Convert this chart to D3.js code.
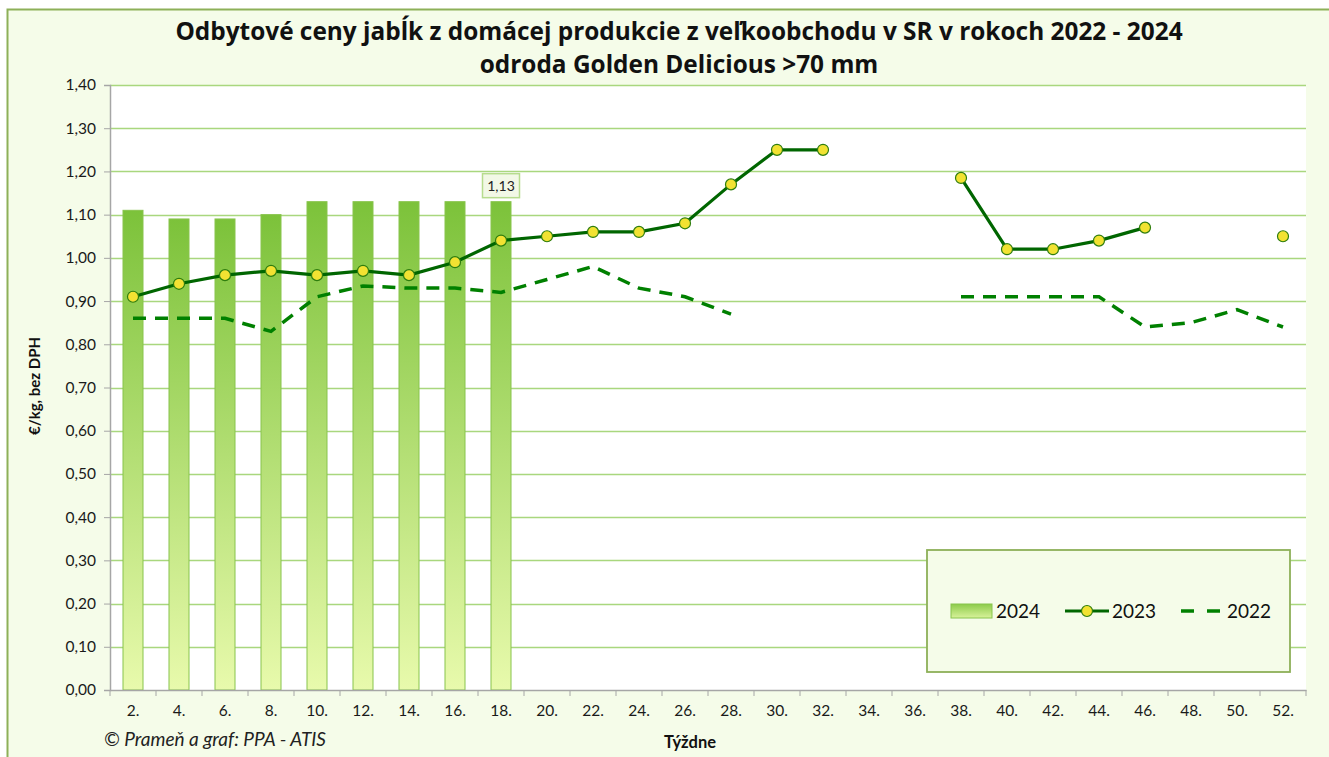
<!DOCTYPE html>
<html>
<head>
<meta charset="utf-8">
<script src="https://cdn.jsdelivr.net/npm/d3@7"></script>
<style>
  body { margin: 0; background: #ffffff; }
  svg { display: block; font-family: Lato, "Open Sans", "DejaVu Sans", sans-serif; }
</style>
</head>
<body>
<svg id="chart" width="1329" height="757"></svg>
<script>
const weeks = ["2.","4.","6.","8.","10.","12.","14.","16.","18.","20.","22.","24.","26.","28.","30.","32.","34.","36.","38.","40.","42.","44.","46.","48.","50.","52."];
const values2024 = [1.11,1.09,1.09,1.10,1.13,1.13,1.13,1.13,1.13,null,null,null,null,null,null,null,null,null,null,null,null,null,null,null,null,null];
const values2023 = [0.91,0.94,0.96,0.97,0.96,0.97,0.96,0.99,1.04,1.05,1.06,1.06,1.08,1.17,1.25,1.25,null,null,1.185,1.02,1.02,1.04,1.07,null,null,1.05];
const values2022 = [0.86,0.86,0.86,0.83,0.91,0.935,0.93,0.93,0.92,0.95,0.98,0.93,0.91,0.87,null,null,null,null,0.91,0.91,0.91,0.91,0.84,0.85,0.88,0.84];
const yTicks = [0,0.1,0.2,0.3,0.4,0.5,0.6,0.7,0.8,0.9,1.0,1.1,1.2,1.3,1.4];
const seriesNames = ["2024","2023","2022"];
const titleLines = ["Odbytové ceny jabĺk z domácej produkcie z veľkoobchodu v SR v rokoch 2022 - 2024", "odroda Golden Delicious >70 mm"];
const yAxisTitle = "€/kg, bez DPH";
const xAxisTitle = "Týždne";
const credit = "© Prameň a graf: PPA - ATIS";
const labelIndex = 8;

const svg = d3.select("#chart");
const fmt = v => d3.format(".2f")(v).replace(".", ",");

// chart background & border
svg.append("rect").attr("x", 0).attr("y", 0).attr("width", 1329).attr("height", 757).attr("fill", "#ffffff");
svg.append("rect").attr("x", 7.5).attr("y", 9.5).attr("width", 1340).attr("height", 760)
  .attr("fill", "#F5FCE9").attr("stroke", "#8DB058").attr("stroke-width", 2);

const plot = {left: 110, right: 1306, top: 85, bottom: 690};
const x = d3.scaleBand().domain(weeks).range([plot.left, plot.right]);
const y = d3.scaleLinear().domain([0, 1.4]).range([plot.bottom, plot.top]);

svg.append("rect").attr("x", plot.left).attr("y", plot.top)
  .attr("width", plot.right - plot.left).attr("height", plot.bottom - plot.top).attr("fill", "#ffffff");

// gridlines
svg.append("g").selectAll("line").data(yTicks.filter(d => d > 0)).join("line")
  .attr("x1", plot.left).attr("x2", plot.right)
  .attr("y1", d => Math.round(y(d)) + 0.5).attr("y2", d => Math.round(y(d)) + 0.5)
  .attr("stroke", "#A9D77E").attr("stroke-width", 1.3);

// gradient for bars
const defs = svg.append("defs");
const grad = defs.append("linearGradient").attr("id", "barGrad").attr("x1", 0).attr("y1", 0).attr("x2", 0).attr("y2", 1);
grad.append("stop").attr("offset", "0%").attr("stop-color", "#7CC23A");
grad.append("stop").attr("offset", "100%").attr("stop-color", "#E8FAAC");
const gradL = defs.append("linearGradient").attr("id", "legGrad").attr("x1", 0).attr("y1", 0).attr("x2", 0).attr("y2", 1);
gradL.append("stop").attr("offset", "0%").attr("stop-color", "#8CCB4A");
gradL.append("stop").attr("offset", "100%").attr("stop-color", "#D8F29A");

// bars
const barW = 20;
const barData = weeks.map((w, i) => ({w, v: values2024[i]})).filter(d => d.v != null);
svg.append("g").selectAll("rect").data(barData).join("rect")
  .attr("x", d => x(d.w) + x.bandwidth() / 2 - barW / 2)
  .attr("y", d => y(d.v))
  .attr("width", barW)
  .attr("height", d => y(0) - y(d.v))
  .attr("fill", "url(#barGrad)")
  .attr("stroke", "#88C44C").attr("stroke-width", 1);

// axes
const yAxis = d3.axisLeft(y).tickValues(yTicks).tickFormat(fmt).tickSize(6).tickPadding(8);
const gy = svg.append("g").attr("transform", `translate(${plot.left},0)`).call(yAxis);
gy.attr("font-family", null);
gy.select(".domain").attr("stroke", "#A6A6A6").attr("stroke-width", 1.5);
gy.selectAll(".tick line").attr("stroke", "#A6A6A6");
gy.selectAll(".tick text").attr("font-size", 15.5).attr("fill", "#1a1a1a");

const xAxis = d3.axisBottom(x).tickSize(0).tickPadding(15);
const gx = svg.append("g").attr("transform", `translate(0,${plot.bottom})`).call(xAxis);
gx.attr("font-family", null);
gx.select(".domain").attr("stroke", "#A6A6A6").attr("stroke-width", 1.5);
gx.selectAll(".tick text").attr("font-size", 15.5).attr("fill", "#1a1a1a");
// boundary tick marks between categories
const bounds = weeks.map(w => x(w)).concat([plot.right]);
svg.append("g").selectAll("line").data(bounds).join("line")
  .attr("x1", d => d).attr("x2", d => d).attr("y1", plot.bottom).attr("y2", plot.bottom + 6)
  .attr("stroke", "#A6A6A6").attr("stroke-width", 1);

const cx = w => x(w) + x.bandwidth() / 2;

// 2022 dashed
const lineGen = d3.line().defined(d => d.v != null).x(d => cx(d.w)).y(d => y(d.v));
svg.append("path").datum(weeks.map((w, i) => ({w, v: values2022[i]})))
  .attr("d", lineGen).attr("fill", "none").attr("stroke", "#008000")
  .attr("stroke-width", 3.5).attr("stroke-dasharray", "13,9");

// 2023 solid with markers
const d23 = weeks.map((w, i) => ({w, v: values2023[i]}));
svg.append("path").datum(d23)
  .attr("d", lineGen).attr("fill", "none").attr("stroke", "#006600").attr("stroke-width", 3.2);
svg.append("g").selectAll("circle").data(d23.filter(d => d.v != null)).join("circle")
  .attr("cx", d => cx(d.w)).attr("cy", d => y(d.v)).attr("r", 5.5)
  .attr("fill", "#F2E232").attr("stroke", "#2E7D0E").attr("stroke-width", 1.2);

// data label
const lw = weeks[labelIndex], lv = values2024[labelIndex];
const lbx = cx(lw), lby = y(lv) - 16;
svg.append("rect").attr("x", lbx - 18.5).attr("y", lby - 12).attr("width", 37).attr("height", 24)
  .attr("fill", "#F2F8E6").attr("stroke", "#B7DC8E").attr("stroke-width", 1.5);
svg.append("text").attr("x", lbx).attr("y", lby + 5).attr("text-anchor", "middle")
  .attr("font-size", 14).attr("fill", "#222").text(fmt(lv));

// titles
svg.append("g").selectAll("text").data(titleLines).join("text")
  .attr("x", 679).attr("y", (d, i) => 40 + i * 33).attr("text-anchor", "middle")
  .style("font-family", "'Open Sans', Lato, sans-serif")
  .attr("font-size", 24.4).attr("font-weight", "bold").attr("fill", "#111").text(d => d);

svg.append("text").attr("transform", "translate(40,386) rotate(-90)").attr("text-anchor", "middle")
  .attr("font-size", 15).attr("font-weight", "bold").attr("fill", "#111").text(yAxisTitle);
svg.append("text").attr("x", 690).attr("y", 748).attr("text-anchor", "middle")
  .attr("font-size", 16.5).attr("font-weight", "bold").attr("fill", "#111").text(xAxisTitle);
svg.append("text").attr("x", 104).attr("y", 746)
  .attr("font-size", 19).attr("font-style", "italic").attr("fill", "#222").text(credit);

// legend
const lg = svg.append("g");
lg.append("rect").attr("x", 927).attr("y", 550).attr("width", 363).attr("height", 122)
  .attr("fill", "#F5FCE9").attr("stroke", "#8DB058").attr("stroke-width", 1.8);
const ly = 611;
lg.append("rect").attr("x", 951).attr("y", ly - 7).attr("width", 41).attr("height", 14)
  .attr("fill", "url(#legGrad)").attr("stroke", "#88C44C");
lg.append("text").attr("x", 996).attr("y", ly + 7).attr("font-size", 19).attr("fill", "#111").text(seriesNames[0]);
lg.append("line").attr("x1", 1065).attr("x2", 1109).attr("y1", ly).attr("y2", ly).attr("stroke", "#006600").attr("stroke-width", 3.2);
lg.append("circle").attr("cx", 1087).attr("cy", ly).attr("r", 5.5).attr("fill", "#F2E232").attr("stroke", "#2E7D0E").attr("stroke-width", 1.2);
lg.append("text").attr("x", 1112).attr("y", ly + 7).attr("font-size", 19).attr("fill", "#111").text(seriesNames[1]);
lg.append("line").attr("x1", 1181).attr("x2", 1221).attr("y1", ly).attr("y2", ly).attr("stroke", "#008000")
  .attr("stroke-width", 3.5).attr("stroke-dasharray", "13,13");
lg.append("text").attr("x", 1227).attr("y", ly + 7).attr("font-size", 19).attr("fill", "#111").text(seriesNames[2]);
</script>
</body>
</html>
